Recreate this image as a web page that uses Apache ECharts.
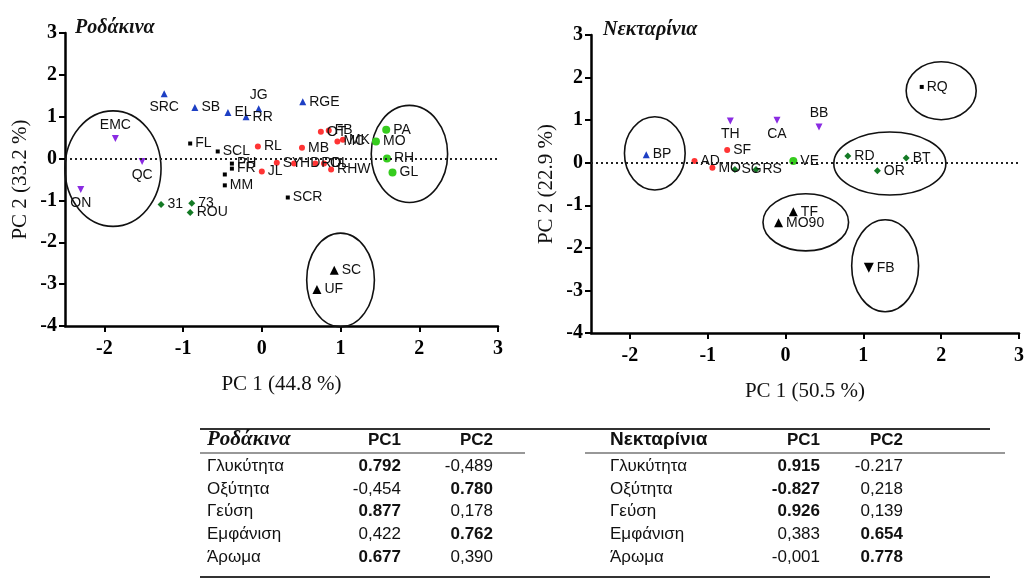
<!DOCTYPE html>
<html>
<head>
<meta charset="utf-8">
<script src="https://cdn.jsdelivr.net/npm/echarts@6/dist/echarts.min.js"></script>
<style>
  html, body { margin: 0; padding: 0; background: #fff; }
  #chart { width: 1027px; height: 579px; }
</style>
</head>
<body>
<div id="chart"></div>
<script>
// --- Ροδάκινα (peaches): [label, PC1, PC2]
const peachBlue = [['SRC', -1.24, 1.55], ['SB', -0.85, 1.22], ['EL', -0.43, 1.10], ['JG', -0.04, 1.19], ['RR', -0.20, 1.00], ['RGE', 0.52, 1.36]];
const peachPurple = [['EMC', -1.86, 0.48], ['QC', -1.52, -0.07], ['ON', -2.30, -0.74]];
const peachBlack = [['FL', -0.91, 0.36], ['SCL', -0.56, 0.17], ['PH', -0.38, -0.12], ['FR', -0.38, -0.24], ['', -0.47, -0.38], ['MM', -0.47, -0.64], ['SCR', 0.33, -0.93]];
const peachRed = [['RL', -0.05, 0.29], ['MB', 0.51, 0.26], ['JL', 0.0, -0.31], ['SY', 0.19, -0.10], ['HD', 0.41, -0.12], ['RD', 0.68, -0.12], ['OL', 0.79, -0.12], ['RHW', 0.88, -0.26], ['OT', 0.75, 0.64], ['FB', 0.85, 0.67], ['MC', 0.96, 0.41], ['MK', 1.03, 0.45]];
const peachGreen = [['PA', 1.58, 0.69], ['MO', 1.45, 0.41], ['RH', 1.59, 0.0], ['GL', 1.66, -0.33]];
const peachDiamond = [['31', -1.28, -1.10], ['73', -0.89, -1.07], ['ROU', -0.91, -1.29]];
const peachTriangle = [['SC', 0.92, -2.67], ['UF', 0.70, -3.13]];
// ellipses: [centre PC1, centre PC2, radius PC1, radius PC2]
const peachGroups = [[-1.89, -0.24, 0.61, 1.38], [1.875, 0.11, 0.485, 1.16], [1.0, -2.9, 0.43, 1.12]];

// --- Νεκταρίνια (nectarines)
const nectBlue = [['BP', -1.79, 0.19]];
const nectPurple = [['TH', -0.71, 0.98], ['CA', -0.11, 1.00], ['BB', 0.43, 0.84]];
const nectBlack = [['RQ', 1.75, 1.78]];
const nectRed = [['AD', -1.17, 0.04], ['MO', -0.94, -0.12], ['SF', -0.75, 0.30]];
const nectGreen = [['VE', 0.10, 0.04]];
const nectDiamond = [['SG', -0.65, -0.16], ['RS', -0.38, -0.16], ['RD', 0.80, 0.16], ['BT', 1.55, 0.11], ['OR', 1.18, -0.19]];
const nectTriangle = [['TF', 0.10, -1.15], ['MO90', -0.09, -1.41]];
const nectDown = [['FB', 1.07, -2.47]];
const nectGroups = [[-1.68, 0.22, 0.39, 0.86], [2.0, 1.69, 0.45, 0.68], [1.34, -0.02, 0.72, 0.74], [0.26, -1.40, 0.55, 0.67], [1.28, -2.42, 0.43, 1.08]];

const xTicks = [-2, -1, 0, 1, 2, 3];
const titles = ['Ροδάκινα', 'Νεκταρίνια'];
const xNames = ['PC 1 (44.8 %)', 'PC 1 (50.5 %)'];
const yNames = ['PC 2 (33.2 %)', 'PC 2 (22.9 %)'];

// loadings tables
const traits = ['Γλυκύτητα', 'Οξύτητα', 'Γεύση', 'Εμφάνιση', 'Άρωμα'];
const peachPC1 = ['0.792', '-0,454', '0.877', '0,422', '0.677'];
const peachPC2 = ['-0,489', '0.780', '0,178', '0.762', '0,390'];
const nectPC1 = ['0.915', '-0.827', '0.926', '0,383', '-0,001'];
const nectPC2 = ['-0.217', '0,218', '0,139', '0.654', '0.778'];

// label placement tweaks (style only)
const labelPos = { SRC: 'bottom', EMC: 'top', QC: 'bottom', ON: 'bottom', JG: 'top', TH: 'bottom', CA: 'bottom', BB: 'top' };

const serif = '"Liberation Serif", "DejaVu Serif", serif';
const sans = '"Liberation Sans", Arial, sans-serif';

function points(rows) {
    return rows.map(r => ({
        name: r[0],
        value: [r[1], r[2]],
        label: { position: labelPos[r[0]] || 'right' }
    }));
}

function scatter(idx, rows, symbol, size, color, rotate) {
    return {
        type: 'scatter', xAxisIndex: idx, yAxisIndex: idx,
        data: points(rows), symbol: symbol, symbolSize: size, symbolRotate: rotate || 0,
        itemStyle: { color: color, opacity: 1 },
        label: { show: true, formatter: '{b}', color: '#111', fontFamily: sans, fontSize: 14, distance: 3 },
        silent: true
    };
}

function renderEllipse(params, api) {
    const c = api.coord([api.value(0), api.value(1)]);
    const s = api.size([api.value(2), api.value(3)]);
    return {
        type: 'ellipse',
        shape: { cx: c[0], cy: c[1], rx: s[0], ry: s[1] },
        style: { fill: 'none', stroke: '#111', lineWidth: 1.6 }
    };
}

function groups(idx, rows) {
    return {
        type: 'custom', xAxisIndex: idx, yAxisIndex: idx, clip: false,
        data: rows, encode: { x: 0, y: 1 }, renderItem: renderEllipse, silent: true,
        markLine: {
            silent: true, symbol: 'none', label: { show: false },
            lineStyle: { color: '#222', type: [2, 3], width: 2 },
            data: [{ yAxis: 0 }]
        }
    };
}

function xAxis(idx) {
    return {
        gridIndex: idx, type: 'value', min: -2.5, max: 3,
        name: xNames[idx], nameLocation: 'middle', nameGap: 48,
        nameTextStyle: { fontFamily: serif, fontSize: 21, color: '#111' },
        axisLine: { onZero: false, lineStyle: { color: '#000', width: 2.5 } },
        axisTick: { show: true, length: 6, customValues: xTicks, lineStyle: { width: 2, color: '#000' } },
        axisLabel: { customValues: xTicks, margin: 13, fontFamily: serif, fontWeight: 'bold', fontSize: 20, color: '#000' },
        splitLine: { show: false }
    };
}

function yAxis(idx) {
    return {
        gridIndex: idx, type: 'value', min: -4, max: 3, interval: 1,
        name: yNames[idx], nameLocation: 'middle', nameGap: 34, nameRotate: 90,
        nameTextStyle: { fontFamily: serif, fontSize: 21, color: '#111' },
        axisLine: { onZero: false, lineStyle: { color: '#000', width: 2.5 } },
        axisTick: { show: true, length: 6, lineStyle: { width: 2, color: '#000' } },
        axisLabel: { margin: 8, fontFamily: serif, fontWeight: 'bold', fontSize: 20, color: '#000' },
        splitLine: { show: false }
    };
}

// table graphics
const tableEls = [];
function txt(text, x, y, align, font) {
    tableEls.push({ type: 'text', x: x, y: y, silent: true, style: { text: text, align: align, verticalAlign: 'middle', font: font, fill: '#111' } });
}
function hline(x1, x2, y, w) {
    tableEls.push({ type: 'line', silent: true, shape: { x1: x1, y1: y, x2: x2, y2: y }, style: { stroke: '#333', lineWidth: w } });
}
const rowY = [466, 489, 511, 534, 557];
function isBold(v) { return Math.abs(parseFloat(v.replace(',', '.'))) >= 0.6; }
function table(title, titleFont, pc1, pc2, xl, x1, x2) {
    txt(title, xl, 440, 'left', titleFont);
    txt('PC1', x1, 440, 'right', 'bold 17px ' + sans);
    txt('PC2', x2, 440, 'right', 'bold 17px ' + sans);
    traits.forEach((t, i) => {
        txt(t, xl, rowY[i], 'left', '17px ' + sans);
        txt(pc1[i], x1, rowY[i], 'right', (isBold(pc1[i]) ? 'bold ' : '') + '17px ' + sans);
        txt(pc2[i], x2, rowY[i], 'right', (isBold(pc2[i]) ? 'bold ' : '') + '17px ' + sans);
    });
}
hline(200, 990, 429, 2);
hline(200, 525, 453, 1.2);
hline(585, 1005, 453, 1.2);
hline(200, 990, 577, 2);
table(titles[0], 'italic bold 21px ' + serif, peachPC1, peachPC2, 207, 401, 493);
table(titles[1], 'bold 19px ' + sans, nectPC1, nectPC2, 610, 820, 903);

const chart = echarts.init(document.getElementById('chart'), null, { renderer: 'canvas' });
chart.setOption({
    animation: false,
    backgroundColor: '#fff',
    title: [
        { text: titles[0], left: 70, top: 13, textStyle: { fontFamily: serif, fontStyle: 'italic', fontWeight: 'bold', fontSize: 20, color: '#111' } },
        { text: titles[1], left: 598, top: 15, textStyle: { fontFamily: serif, fontStyle: 'italic', fontWeight: 'bold', fontSize: 20, color: '#111' } }
    ],
    grid: [
        { left: 65, top: 33, width: 433, height: 293 },
        { left: 591, top: 35, width: 431, height: 298 }
    ],
    xAxis: [xAxis(0), xAxis(1)],
    yAxis: [yAxis(0), yAxis(1)],
    graphic: tableEls,
    series: [
        groups(0, peachGroups),
        scatter(0, peachBlue, 'triangle', 7, '#1d3fc4'),
        scatter(0, peachPurple, 'triangle', 7, '#8a2be2', 180),
        scatter(0, peachBlack, 'rect', 4, '#000'),
        scatter(0, peachRed, 'circle', 6, '#ff3434'),
        scatter(0, peachGreen, 'circle', 8, '#36cc1e'),
        scatter(0, peachDiamond, 'diamond', 7, '#147a25'),
        scatter(0, peachTriangle, 'triangle', 9, '#000'),
        groups(1, nectGroups),
        scatter(1, nectBlue, 'triangle', 7, '#1d3fc4'),
        scatter(1, nectPurple, 'triangle', 7, '#8a2be2', 180),
        scatter(1, nectBlack, 'rect', 4, '#000'),
        scatter(1, nectRed, 'circle', 6, '#ff3434'),
        scatter(1, nectGreen, 'circle', 8, '#36cc1e'),
        scatter(1, nectDiamond, 'diamond', 7, '#147a25'),
        scatter(1, nectTriangle, 'triangle', 9, '#000'),
        scatter(1, nectDown, 'triangle', 10, '#000', 180)
    ]
});
</script>
</body>
</html>
